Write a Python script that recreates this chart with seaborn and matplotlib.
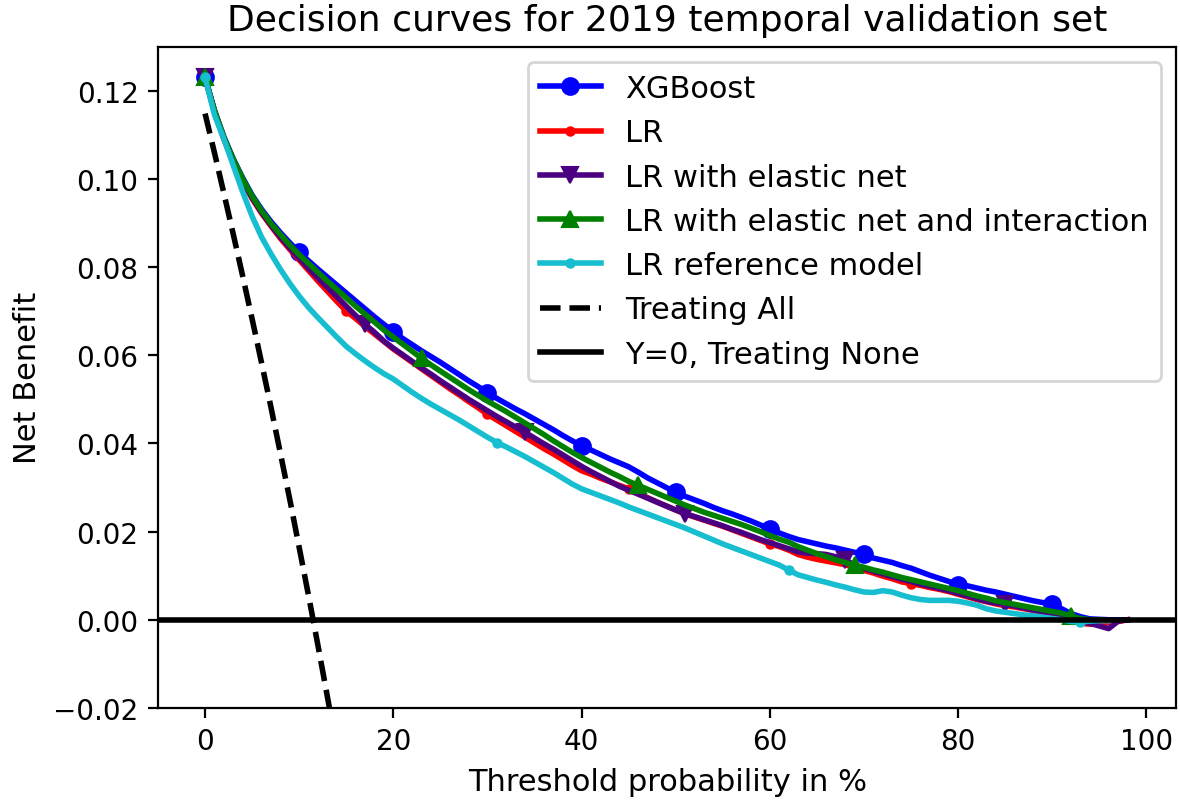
import matplotlib
matplotlib.use("Agg")
import matplotlib.pyplot as plt
import seaborn as sns
import numpy as np

# Threshold probabilities (%)
thresholds = list(range(0, 99))

xgboost = [0.1230, 0.1155, 0.1095, 0.1045, 0.1002, 0.0963, 0.0931, 0.0903, 0.0878, 0.0855,
           0.0833, 0.0814, 0.0795, 0.0777, 0.0759, 0.0741, 0.0723, 0.0705, 0.0687, 0.0670,
           0.0653, 0.0638, 0.0624, 0.0610, 0.0597, 0.0584, 0.0570, 0.0556, 0.0542, 0.0529,
           0.0515, 0.0502, 0.0490, 0.0478, 0.0467, 0.0455, 0.0443, 0.0431, 0.0418, 0.0406,
           0.0395, 0.0385, 0.0375, 0.0365, 0.0356, 0.0347, 0.0335, 0.0322, 0.0311, 0.0300,
           0.0289, 0.0280, 0.0272, 0.0264, 0.0255, 0.0247, 0.0240, 0.0232, 0.0224, 0.0215,
           0.0207, 0.0197, 0.0189, 0.0182, 0.0177, 0.0172, 0.0167, 0.0163, 0.0158, 0.0153,
           0.0149, 0.0140, 0.0135, 0.0130, 0.0123, 0.0117, 0.0109, 0.0101, 0.0094, 0.0087,
           0.0080, 0.0077, 0.0072, 0.0067, 0.0063, 0.0058, 0.0053, 0.0048, 0.0043, 0.0039,
           0.0036, 0.0025, 0.0014, 0.0007, 0.0002, 0.0001, 0.0000, 0.0000, 0.0000]

lr = [0.1230, 0.1152, 0.1090, 0.1038, 0.0994, 0.0955, 0.0922, 0.0893, 0.0865, 0.0840,
      0.0816, 0.0792, 0.0768, 0.0745, 0.0722, 0.0700, 0.0683, 0.0665, 0.0648, 0.0631,
      0.0614, 0.0599, 0.0584, 0.0569, 0.0554, 0.0539, 0.0524, 0.0510, 0.0495, 0.0481,
      0.0466, 0.0453, 0.0440, 0.0427, 0.0414, 0.0401, 0.0388, 0.0376, 0.0363, 0.0350,
      0.0338, 0.0330, 0.0321, 0.0313, 0.0305, 0.0297, 0.0287, 0.0277, 0.0267, 0.0258,
      0.0249, 0.0240, 0.0233, 0.0226, 0.0219, 0.0212, 0.0204, 0.0196, 0.0188, 0.0180,
      0.0172, 0.0166, 0.0158, 0.0148, 0.0142, 0.0137, 0.0133, 0.0129, 0.0125, 0.0118,
      0.0112, 0.0106, 0.0099, 0.0093, 0.0086, 0.0082, 0.0078, 0.0073, 0.0069, 0.0064,
      0.0058, 0.0052, 0.0046, 0.0041, 0.0036, 0.0032, 0.0029, 0.0025, 0.0021, 0.0017,
      0.0014, 0.0008, 0.0001, -0.0008, -0.0010, -0.0010, -0.0006, -0.0004, 0.0000]

lr_elastic = [0.1230, 0.1153, 0.1091, 0.1040, 0.0996, 0.0957, 0.0924, 0.0895, 0.0868, 0.0843,
              0.0820, 0.0797, 0.0775, 0.0754, 0.0733, 0.0711, 0.0690, 0.0670, 0.0652, 0.0632,
              0.0616, 0.0601, 0.0586, 0.0571, 0.0557, 0.0542, 0.0528, 0.0514, 0.0500, 0.0487,
              0.0474, 0.0461, 0.0449, 0.0437, 0.0425, 0.0412, 0.0399, 0.0387, 0.0374, 0.0361,
              0.0348, 0.0336, 0.0325, 0.0314, 0.0303, 0.0294, 0.0285, 0.0276, 0.0267, 0.0258,
              0.0249, 0.0241, 0.0234, 0.0227, 0.0220, 0.0213, 0.0205, 0.0198, 0.0190, 0.0182,
              0.0175, 0.0168, 0.0161, 0.0154, 0.0151, 0.0150, 0.0148, 0.0143, 0.0136, 0.0124,
              0.0117, 0.0110, 0.0104, 0.0098, 0.0092, 0.0087, 0.0081, 0.0076, 0.0071, 0.0066,
              0.0060, 0.0054, 0.0048, 0.0042, 0.0038, 0.0035, 0.0031, 0.0027, 0.0022, 0.0018,
              0.0014, 0.0008, 0.0001, -0.0005, -0.0008, -0.0014, -0.0020, -0.0003, 0.0000]

lr_elastic_inter = [0.1230, 0.1155, 0.1094, 0.1044, 0.1000, 0.0961, 0.0928, 0.0899, 0.0874, 0.0850,
                    0.0828, 0.0808, 0.0788, 0.0768, 0.0749, 0.0730, 0.0711, 0.0693, 0.0675, 0.0657,
                    0.0641, 0.0625, 0.0609, 0.0593, 0.0578, 0.0564, 0.0550, 0.0536, 0.0522, 0.0509,
                    0.0496, 0.0484, 0.0472, 0.0459, 0.0446, 0.0433, 0.0420, 0.0406, 0.0393, 0.0380,
                    0.0368, 0.0357, 0.0346, 0.0335, 0.0325, 0.0314, 0.0305, 0.0296, 0.0287, 0.0278,
                    0.0269, 0.0260, 0.0252, 0.0244, 0.0237, 0.0230, 0.0223, 0.0216, 0.0208, 0.0200,
                    0.0191, 0.0183, 0.0176, 0.0166, 0.0158, 0.0150, 0.0143, 0.0136, 0.0130, 0.0124,
                    0.0119, 0.0113, 0.0108, 0.0102, 0.0096, 0.0091, 0.0086, 0.0081, 0.0076, 0.0071,
                    0.0066, 0.0060, 0.0054, 0.0049, 0.0043, 0.0039, 0.0035, 0.0031, 0.0027, 0.0023,
                    0.0019, 0.0015, 0.0008, 0.0003, 0.0000, 0.0000]

lr_reference = [0.1230, 0.1145, 0.1090, 0.1030, 0.0970, 0.0915, 0.0868, 0.0830, 0.0795, 0.0763,
                0.0734, 0.0708, 0.0685, 0.0663, 0.0641, 0.0620, 0.0603, 0.0587, 0.0572, 0.0558,
                0.0546, 0.0531, 0.0516, 0.0502, 0.0489, 0.0477, 0.0465, 0.0453, 0.0440, 0.0427,
                0.0414, 0.0402, 0.0392, 0.0381, 0.0370, 0.0358, 0.0346, 0.0334, 0.0321, 0.0308,
                0.0297, 0.0289, 0.0281, 0.0273, 0.0265, 0.0256, 0.0248, 0.0240, 0.0232, 0.0224,
                0.0216, 0.0208, 0.0199, 0.0190, 0.0181, 0.0172, 0.0164, 0.0156, 0.0148, 0.0140,
                0.0132, 0.0124, 0.0113, 0.0102, 0.0096, 0.0090, 0.0085, 0.0079, 0.0074, 0.0068,
                0.0063, 0.0062, 0.0066, 0.0063, 0.0056, 0.0050, 0.0046, 0.0044, 0.0044, 0.0044,
                0.0042, 0.0038, 0.0033, 0.0025, 0.0020, 0.0017, 0.0014, 0.0011, 0.0009, 0.0006,
                0.0003, 0.0000, -0.0004, -0.0005, -0.0003, -0.0002, -0.0002]

treat_all_x = list(range(0, 15))
treat_all = [0.1148, 0.1059, 0.0967, 0.0874, 0.0779, 0.0682, 0.0583, 0.0482, 0.0378, 0.0273,
             0.0164, 0.0054, -0.0059, -0.0175, -0.0293]

fig, ax = plt.subplots(figsize=(5.9, 4.015), dpi=200)
fig.subplots_adjust(left=0.1339, right=0.9970, bottom=0.1171, top=0.9408)

series = [
    ("XGBoost", xgboost, "blue", "o", 10),
    ("LR", lr, "red", ".", 15),
    ("LR with elastic net", lr_elastic, "indigo", "v", 17),
    ("LR with elastic net and interaction", lr_elastic_inter, "green", "^", 23),
    ("LR reference model", lr_reference, "tab:cyan", ".", 31),
]
for name, vals, col, mk, every in series:
    sns.lineplot(x=thresholds[:len(vals)], y=vals, color=col, marker=mk, markevery=every,
                 markersize=6, markeredgecolor=col, linewidth=2, label=name,
                 estimator=None, sort=False, ax=ax)

sns.lineplot(x=treat_all_x, y=treat_all, color="black", linestyle="--", linewidth=2,
             label="Treating All", estimator=None, sort=False, ax=ax)
ax.axhline(0, color="black", linewidth=2, label="Y=0, Treating None")

ax.set_xlim(-5, 103.2)
ax.set_ylim(-0.02, 0.13)
ax.set_xticks([0, 20, 40, 60, 80, 100])
ax.set_yticks([-0.02, 0.0, 0.02, 0.04, 0.06, 0.08, 0.10, 0.12])
ax.tick_params(labelsize=10)
ax.set_xlabel("Threshold probability in %", fontsize=11)
ax.set_ylabel("Net Benefit", fontsize=11)
ax.set_title("Decision curves for 2019 temporal validation set", fontsize=13)
ax.legend(loc="upper right", fontsize=11)

fig.savefig("out.png", dpi=200)
